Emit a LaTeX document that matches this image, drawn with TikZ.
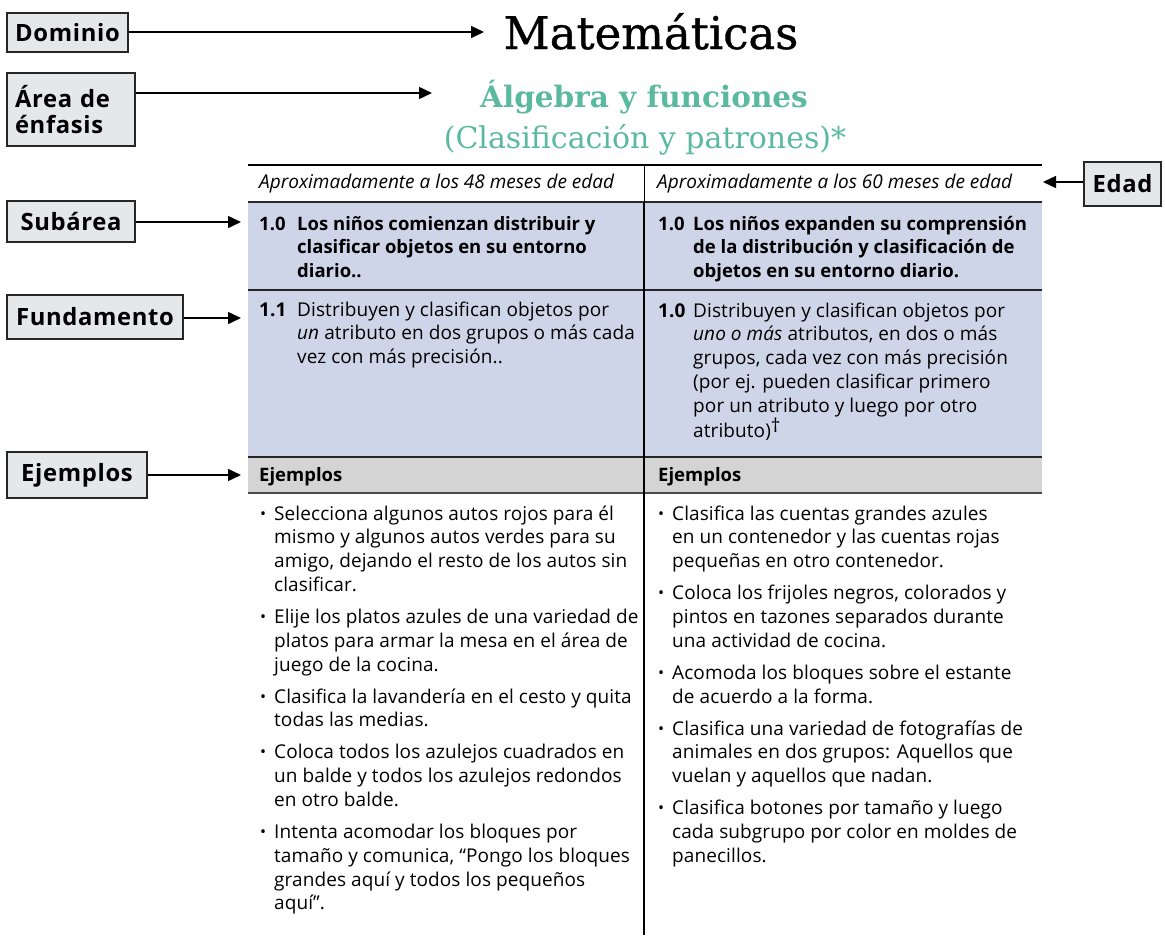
\documentclass[tikz,border=0pt]{standalone}
\usepackage{fontspec}
\setmainfont{Open Sans}
\newfontfamily\titlefont{DejaVu Serif}
\newfontfamily\titlefontmed{DejaVu Serif}[FakeBold=0.8]
\usetikzlibrary{arrows.meta}
\definecolor{boxgray}{HTML}{E6E7E8}
\definecolor{rowblue}{HTML}{CFD5E8}
\definecolor{rowgray}{HTML}{D4D4D4}
\definecolor{titleteal}{HTML}{5BB9A0}
\newcommand\bodyfont{\fontsize{19}{23.8}\selectfont\addfontfeatures{LetterSpace=0.5}}
\newcommand\boldbody{\fontsize{18.5}{23.8}\selectfont\bfseries}
\newcommand\itbody{\fontsize{19}{24}\selectfont\itshape}
\newcommand\bu{\makebox[14pt][l]{\raisebox{1pt}{\fontsize{16}{16}\selectfont •}}}
\newcommand\itm[1]{\par\hangindent=14pt\hangafter=1\noindent\bu#1\par}
\newcommand\cellbox[2]{\begin{minipage}[t]{450pt}#1\parindent=0pt #2\end{minipage}}
\newcommand\listbox[1]{\begin{minipage}[t]{500pt}\bodyfont\parindent=0pt\setlength\parskip{8.2pt}#1\end{minipage}}
\newcommand\mydag{\raisebox{5pt}{\fontsize{19}{19}\selectfont †}}
\tikzset{
  lbl/.style={draw=black!85, line width=1.6pt, fill=boxgray, inner sep=0pt,
    font=\fontsize{23.8}{26}\selectfont\bfseries\addfontfeatures{LetterSpace=2.8}, align=left},
  arr/.style={line width=1.5pt, -{Triangle[length=13pt,width=12pt]}},
  cell/.style={anchor=base west, inner sep=0pt},
}
\begin{document}
\begin{tikzpicture}[x=1pt,y=-1pt]
\useasboundingbox (0,0) rectangle (1165,935);
% table backgrounds and rules
\fill[rowblue] (248,202) rectangle (1042,457);
\fill[rowgray] (248,457) rectangle (1042,493);
\draw[line width=1.2pt] (248,165) -- (1042,165);
\draw[line width=1.4pt, black!85] (248,202) -- (1042,202);
\draw[line width=1.4pt, black!85] (248,290) -- (1042,290);
\draw[line width=1.4pt, black!85] (248,457) -- (1042,457);
\draw[line width=2.6pt, black!70] (248,493) -- (1042,493);
\draw[line width=1pt] (644,165) -- (644,202);
\draw[line width=2pt] (644,202) -- (644,935);

% titles
\node[anchor=base, inner sep=0pt, font=\titlefontmed\fontsize{45}{48}\selectfont] (mat) at (651,49) {Matemáticas};
\node[anchor=base, inner sep=0pt, font=\titlefont\bfseries\fontsize{29.5}{32}\selectfont, text=titleteal] (alg) at (644,107) {Álgebra y funciones};
\node[anchor=base, inner sep=0pt, font=\titlefont\fontsize{30}{32}\selectfont, text=titleteal] (clas) at (645,148) {(Clasificación y patrones)*};

% header row
\node[cell, font=\itbody] (h1) at (259,188) {Aproximadamente a los 48 meses de edad};
\node[cell, font=\itbody] (h2) at (657,188) {Aproximadamente a los 60 meses de edad};

% subarea row
\node[cell] (s1) at (259,230) {\cellbox{\boldbody}{\hangindent=38pt\hangafter=1 \makebox[38pt][l]{1.0}Los niños comienzan distribuir y\newline clasificar objetos en su entorno\newline diario..}};
\node[cell] (s2) at (658,230) {\cellbox{\boldbody}{\hangindent=35pt\hangafter=1 \makebox[35pt][l]{1.0}Los niños expanden su comprensión\newline de la distribución y clasificación de\newline objetos en su entorno diario.}};

% fundamento row
\node[cell] (f1) at (259,316) {\cellbox{\bodyfont}{\hangindent=38pt\hangafter=1 \makebox[38pt][l]{\bfseries 1.1}Distribuyen y clasifican objetos por\newline \textit{un} atributo en dos grupos o más cada\newline vez con más precisión..}};
\node[cell] (f2) at (658,317) {\cellbox{\bodyfont}{\hangindent=35pt\hangafter=1 \makebox[35pt][l]{\bfseries 1.0}Distribuyen y clasifican objetos por\newline \textit{uno o más} atributos, en dos o más\newline grupos, cada vez con más precisión\newline (por ej. pueden clasificar primero\newline por un atributo y luego por otro\newline atributo)\mydag}};

% ejemplos header
\node[cell, font=\boldbody] (e1) at (259,481) {Ejemplos};
\node[cell, font=\boldbody] (e2) at (658,481) {Ejemplos};

% examples
\node[cell] (x1) at (260,520) {\listbox{%
\itm{Selecciona algunos autos rojos para él\newline mismo y algunos autos verdes para su\newline amigo, dejando el resto de los autos sin\newline clasificar.}
\itm{Elije los platos azules de una variedad de\newline platos para armar la mesa en el área de\newline juego de la cocina.}
\itm{Clasifica la lavandería en el cesto y quita\newline todas las medias.}
\itm{Coloca todos los azulejos cuadrados en\newline un balde y todos los azulejos redondos\newline en otro balde.}
\itm{Intenta acomodar los bloques por\newline tamaño y comunica, “Pongo los bloques\newline grandes aquí y todos los pequeños\newline aquí”.}}};
\node[cell] (x2) at (658,520) {\listbox{%
\itm{Clasifica las cuentas grandes azules\newline en un contenedor y las cuentas rojas\newline pequeñas en otro contenedor.}
\itm{Coloca los frijoles negros, colorados y\newline pintos en tazones separados durante\newline una actividad de cocina.}
\itm{Acomoda los bloques sobre el estante\newline de acuerdo a la forma.}
\itm{Clasifica una variedad de fotografías de\newline animales en dos grupos: Aquellos que\newline vuelan y aquellos que nadan.}
\itm{Clasifica botones por tamaño y luego\newline cada subgrupo por color en moldes de\newline panecillos.}}};

% label boxes
\node[lbl, minimum width=121pt, minimum height=39pt] (dom) at (67.5,32.5) {Dominio};
\node[lbl, minimum width=128pt, minimum height=73pt, text width=112pt] (area) at (71,109.5) {Área de\\énfasis};
\node[lbl, minimum width=128pt, minimum height=41pt] (sub) at (71,221.5) {Subárea};
\node[lbl, minimum width=176pt, minimum height=44pt] (fund) at (95,317) {Fundamento};
\node[lbl, minimum width=140pt, minimum height=46pt] (ejem) at (77,475) {Ejemplos};
\node[lbl, minimum width=77pt, minimum height=44pt] (edad) at (1122.5,184) {Edad};

% arrow tips
\coordinate (tDom) at (484,32);
\coordinate (tArea) at (432,93);
\coordinate (tSub) at (241,222);
\coordinate (tFund) at (241,318);
\coordinate (tEj) at (241,475);
\coordinate (tEdad) at (1043,182);

\draw[arr] (dom.east |- tDom) -- (tDom);
\draw[arr] (area.east |- tArea) -- (tArea);
\draw[arr] (sub.east |- tSub) -- (tSub);
\draw[arr] (fund.east |- tFund) -- (tFund);
\draw[arr] (ejem.east |- tEj) -- (tEj);
\draw[arr] (edad.west |- tEdad) -- (tEdad);
\end{tikzpicture}
\end{document}
